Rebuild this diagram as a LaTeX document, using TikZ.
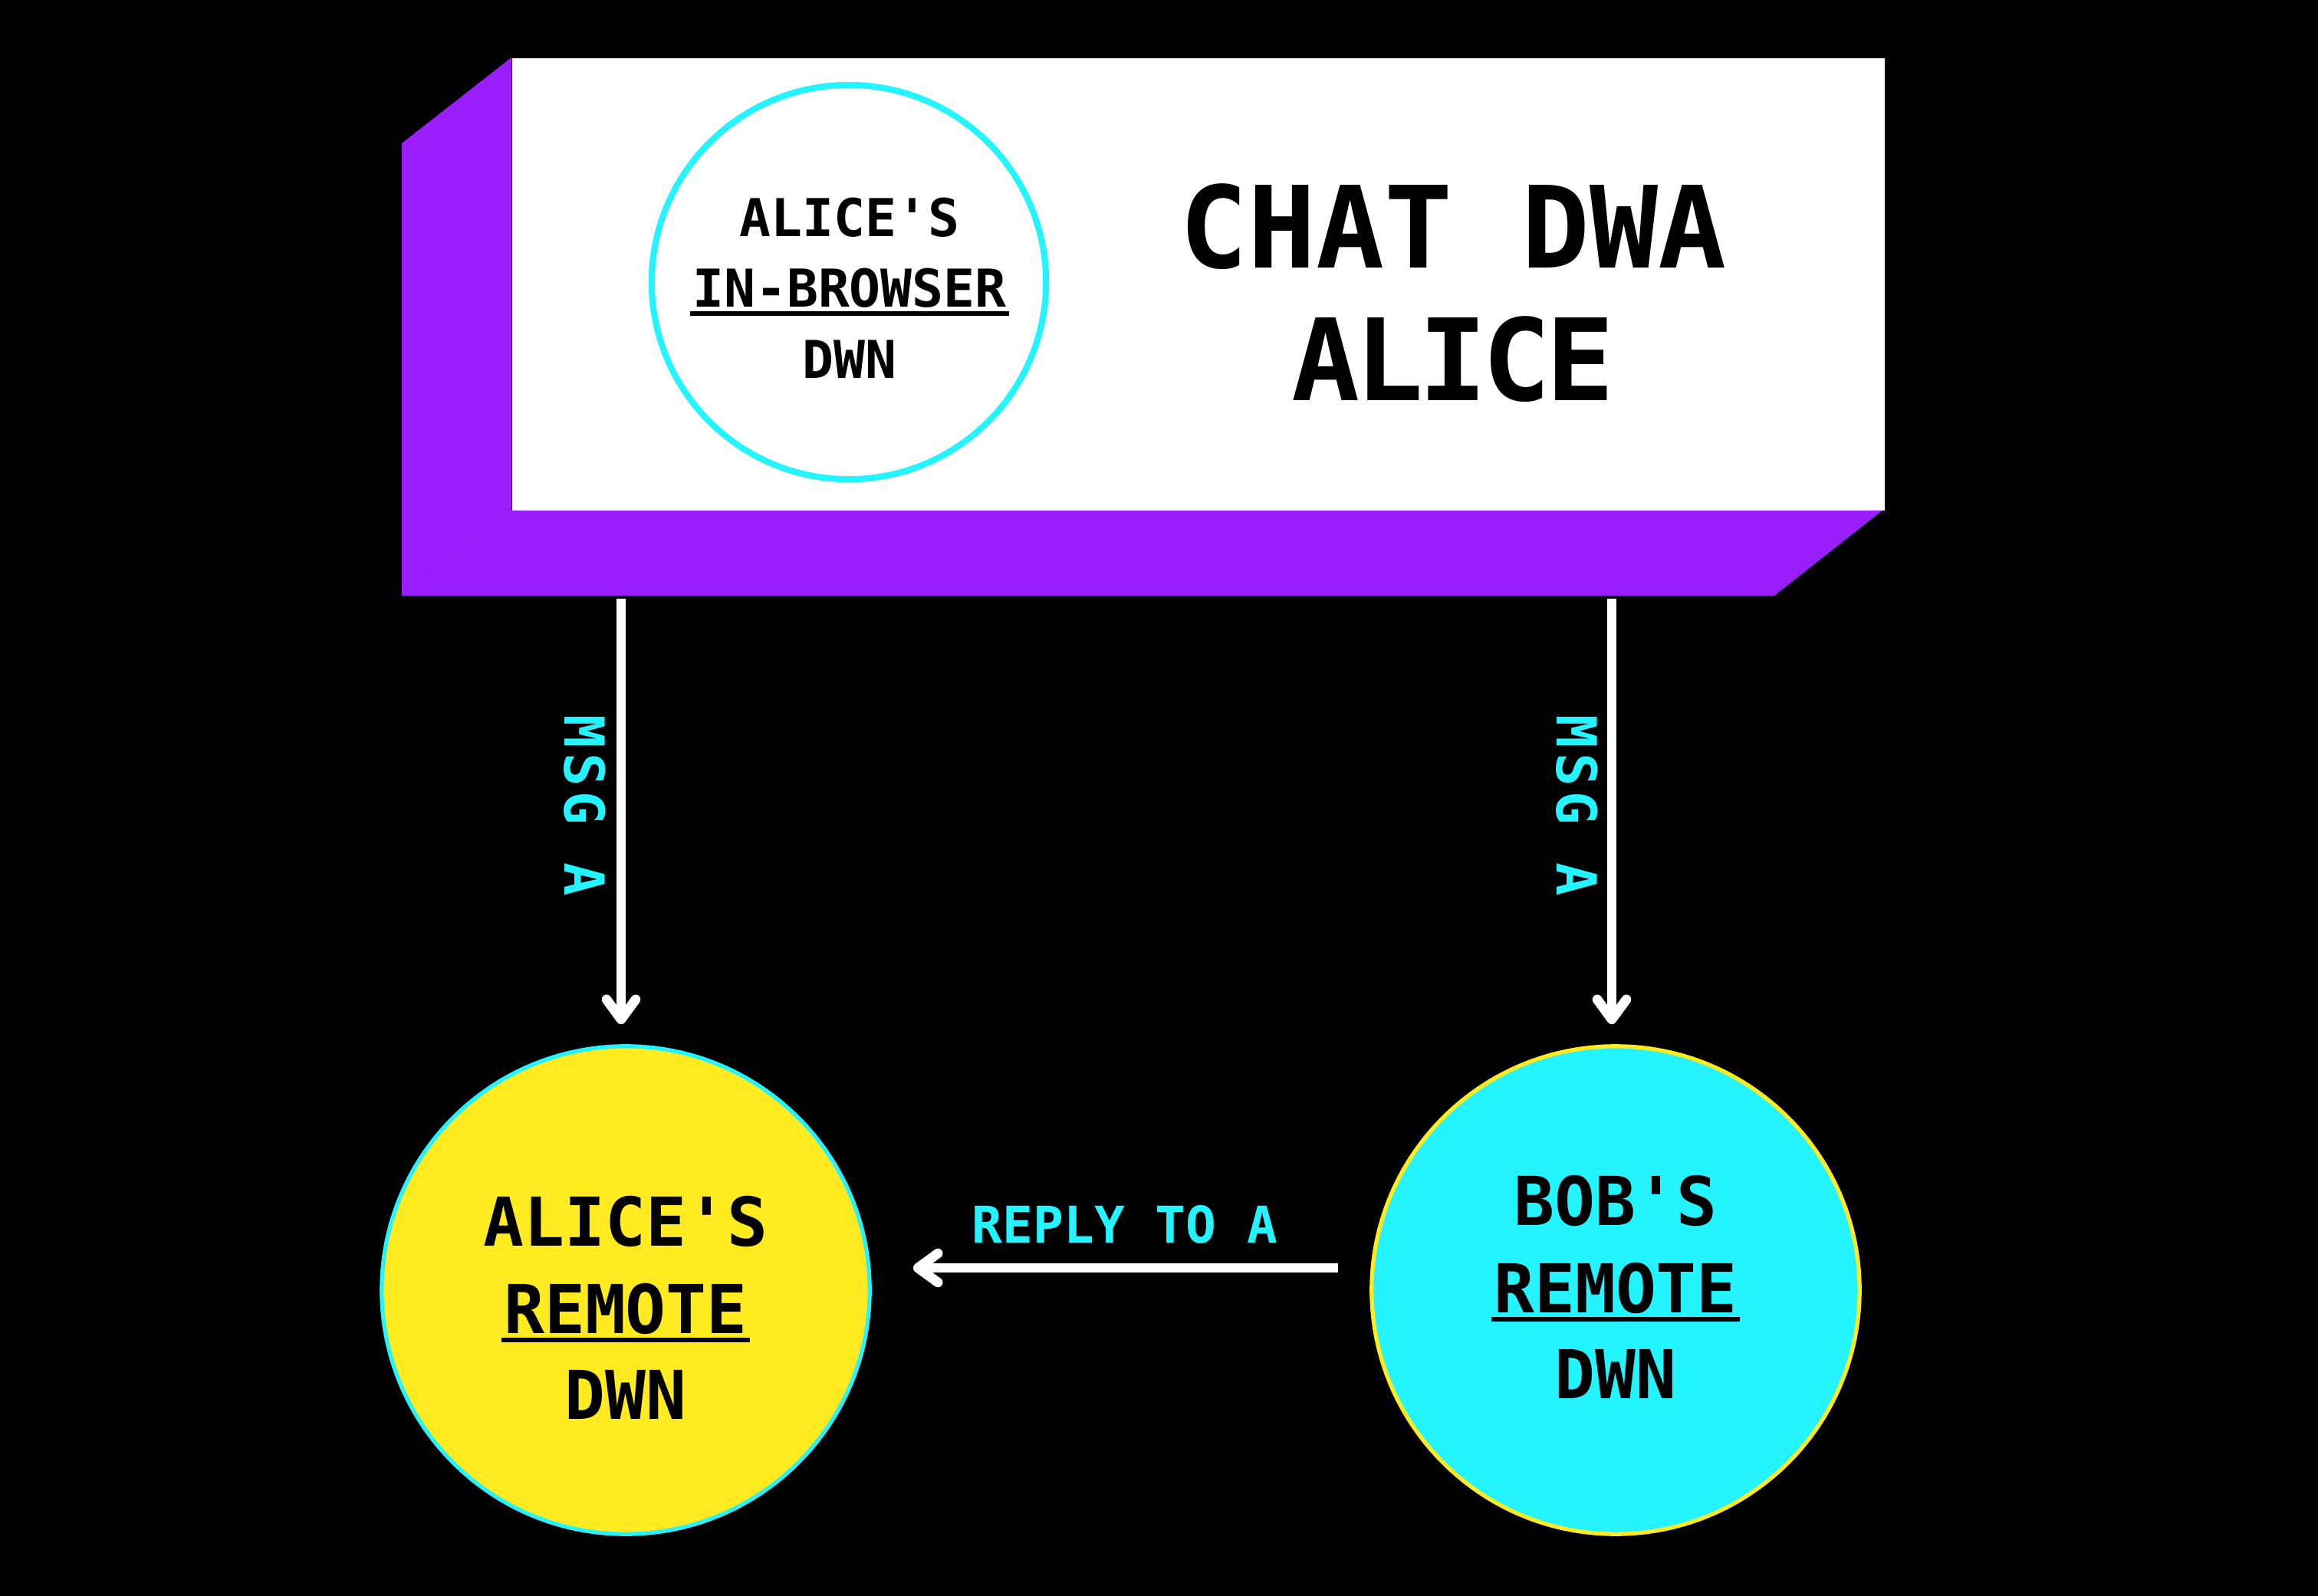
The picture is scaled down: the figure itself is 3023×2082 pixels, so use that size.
\documentclass[tikz,border=0pt]{standalone}
\usepackage{fontspec}
\setmonofont{DejaVu Sans Mono}
\newfontfamily\dmls{DejaVu Sans Mono}[LetterSpace=9]
\newfontfamily\dmtight{DejaVu Sans Mono}[LetterSpace=-4]
\usetikzlibrary{arrows.meta}
\definecolor{dwpurple}{HTML}{9A1EFF}
\definecolor{dwcyan}{HTML}{24F4FF}
\definecolor{dwyellow}{HTML}{FFEB1F}
\newcommand\dwul[1]{\setbox0\hbox{#1}\leavevmode\rlap{\kern-0.8pt\rule[-3.42pt]{\dimexpr\wd0+1.6pt\relax}{1.71pt}}\box0}
\begin{document}
\begin{tikzpicture}[x=0.01cm,y=-0.01cm,
  bigt/.style={font=\ttfamily\bfseries\fontsize{42.1}{50}\selectfont, text=black, inner sep=0pt, anchor=base},
  smallt/.style={font=\ttfamily\bfseries\fontsize{19.35}{24}\selectfont, text=black, inner sep=0pt, anchor=base},
  midt/.style={font=\ttfamily\bfseries\fontsize{25}{30}\selectfont, text=black, inner sep=0pt, anchor=base},
  msgt/.style={font=\dmls\bfseries\fontsize{20.5}{24}\selectfont, text=dwcyan, inner sep=0pt, rotate=-90},
  replyt/.style={font=\ttfamily\bfseries\fontsize{18.8}{22}\selectfont, text=dwcyan, inner sep=0pt, anchor=base},
  arr/.style={draw=white, line width=3.4pt, -{Straight Barb[length=7.4pt,width=10.8pt,round,line width=3.6pt]}},
  dwn/.style={circle, inner sep=0pt, minimum size=6.36cm, line width=1.5pt},
]
\fill[black] (0,0) rectangle (3023,2082);
\useasboundingbox (0,0) rectangle (3023,2082);
% extruded box
\fill[dwpurple] (524,187) -- (667,75) -- (667,665) -- (524,777) -- cycle;
\fill[dwpurple] (524,777) -- (667,665) -- (2456,665) -- (2314,777) -- cycle;
\node[fill=white, inner sep=0pt, minimum width=17.89cm, minimum height=5.90cm, anchor=north west] (dwa) at (667,75) {};
\node[bigt] (t1) at (1895,350) {CHAT DWA};
\node[bigt, font=\dmtight\bfseries\fontsize{42.1}{50}\selectfont] (t2) at (1895,522) {ALICE};
% in-browser circle
\node[circle, draw=dwcyan, fill=white, line width=2.3pt, minimum size=5.14cm, inner sep=0pt] (inb) at (1107,368) {};
\node[smallt] (i1) at (1108,309) {ALICE'S};
\node[smallt] (i2) at (1108,400) {\dwul{IN-BROWSER}};
\node[smallt] (i3) at (1108,493) {DWN};
% remote circles
\node[dwn, fill=dwyellow, draw=dwcyan] (aR) at (816,1683) {};
\node[midt] (a1) at (816,1625) {ALICE'S};
\node[midt] (a2) at (816,1739) {\dwul{REMOTE}};
\node[midt] (a3) at (816,1851) {DWN};
\node[dwn, fill=dwcyan, draw=dwyellow] (bR) at (2107,1683) {};
\node[midt] (b1) at (2107,1598) {BOB'S};
\node[midt] (b2) at (2107,1712) {\dwul{REMOTE}};
\node[midt] (b3) at (2107,1824) {DWN};
% arrows
\coordinate (s1) at (810,781);
\coordinate (s2) at (2102,781);
\coordinate (s3) at (1745,1654);
\draw[arr, shorten >=0.26cm] (s1) -- (s1 |- aR.north);
\draw[arr, shorten >=0.26cm] (s2) -- (s2 |- bR.north);
\draw[arr, shorten >=0.54cm] (s3) -- (s3 -| aR.east);
% labels
\node[msgt] (m1) at (763,1051) {MSG A};
\node[msgt] (m2) at (2057,1051) {MSG A};
\node[replyt] (r1) at (1467,1621) {REPLY TO A};
\end{tikzpicture}
\end{document}
